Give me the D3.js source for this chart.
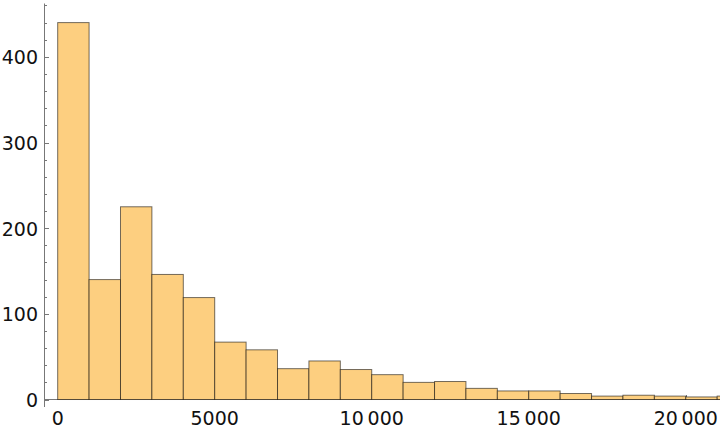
<!DOCTYPE html>
<meta charset="utf-8">
<style>

body {
  margin: 0;
  background: #fff;
}

rect.bin {
  fill: #fdcf80;
  stroke: #000;
  stroke-opacity: 0.55;
  stroke-width: 1;
}

.axis line {
  stroke: #777;
}

text {
  font-family: "DejaVu Sans", sans-serif;
  font-size: 19px;
  fill: #111;
}

</style>
<svg></svg>
<script src="https://cdn.jsdelivr.net/npm/d3@7/dist/d3.min.js"></script>
<script>

var width = 720,
    height = 430;

// histogram: bins of width 1000 starting at 0
var binStarts = [0, 1000, 2000, 3000, 4000, 5000, 6000, 7000, 8000, 9000, 10000,
                 11000, 12000, 13000, 14000, 15000, 16000, 17000, 18000, 19000, 20000, 21000];
var counts = [440, 140, 225, 146, 119, 67, 58, 36, 45, 35, 29,
              20, 21, 13, 10, 10, 7, 4, 5, 4, 3, 4];
var binWidth = 1000;

var xTicks = [0, 5000, 10000, 15000, 20000];
var xTickLabels = ["0", "5000", "10\u2009000", "15\u2009000", "20\u2009000"];
var yTicks = [0, 100, 200, 300, 400];

var bins = binStarts.map(function(d, i) { return {x0: d, x1: d + binWidth, n: counts[i]}; });

var svg = d3.select("svg")
    .attr("width", width)
    .attr("height", height);

var x = d3.scaleLinear()
    .domain([-420, 21090])
    .range([44.5, 720]);

var y = d3.scaleLinear()
    .domain([-8.75, 462.3])
    .range([407, 3.5]);

var axes = svg.append("g").attr("class", "axis");

// x minor/major ticks (point up, mostly hidden by the bars)
axes.selectAll("line.xtick")
  .data(d3.range(0, 21001, 1000))
  .enter().append("line")
    .attr("class", "xtick")
    .attr("x1", function(d) { return Math.round(x(d)) + 0.5; })
    .attr("x2", function(d) { return Math.round(x(d)) + 0.5; })
    .attr("y1", y(0))
    .attr("y2", function(d) { return y(0) - (d % 5000 ? 2.5 : 4.5); });

svg.append("g").selectAll("rect")
  .data(bins)
  .enter().append("rect")
    .attr("class", "bin")
    .attr("x", function(d) { return x(d.x0); })
    .attr("y", function(d) { return y(d.n); })
    .attr("width", function(d) { return x(d.x1) - x(d.x0); })
    .attr("height", function(d) { return y(0) - y(d.n); });

// axis lines
axes.append("line")
    .attr("x1", x.range()[0]).attr("x2", width)
    .attr("y1", y(0)).attr("y2", y(0));
axes.append("line")
    .attr("x1", x.range()[0]).attr("x2", x.range()[0])
    .attr("y1", y.range()[0]).attr("y2", y.range()[1]);

// y ticks
axes.selectAll("line.ytick")
  .data(d3.range(0, 461, 20))
  .enter().append("line")
    .attr("class", "ytick")
    .attr("x1", x.range()[0])
    .attr("x2", function(d) { return x.range()[0] + (d % 100 ? 2.5 : 4.5); })
    .attr("y1", function(d) { return Math.round(y(d)) + 0.5; })
    .attr("y2", function(d) { return Math.round(y(d)) + 0.5; });

svg.append("g").selectAll("text")
  .data(yTicks)
  .enter().append("text")
    .attr("x", 38)
    .attr("y", function(d) { return y(d) + 7.5; })
    .attr("text-anchor", "end")
    .text(function(d) { return d; });

svg.append("g").selectAll("text")
  .data(xTicks)
  .enter().append("text")
    .attr("x", function(d) { return x(d); })
    .attr("y", 425)
    .attr("text-anchor", "middle")
    .text(function(d, i) { return xTickLabels[i]; });

</script>
